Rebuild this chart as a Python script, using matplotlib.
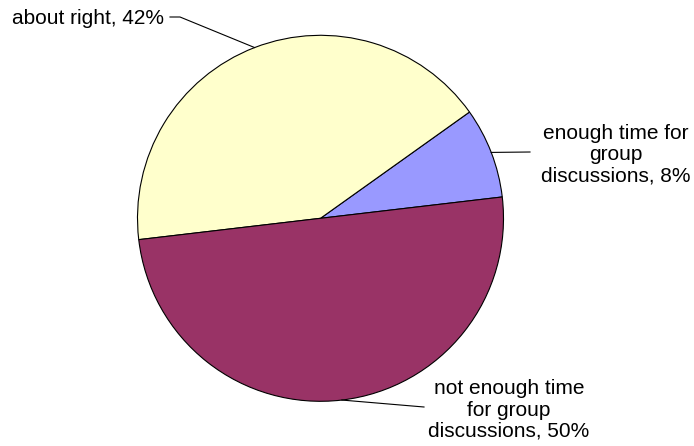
import numpy as np
import matplotlib
matplotlib.use("Agg")
import matplotlib.pyplot as plt

plt.rcParams['font.family'] = ['Liberation Sans', 'DejaVu Sans']

# shares of answers
labels = ["enough time for\ngroup\ndiscussions, 8%",
          "about right, 42%",
          "not enough time\nfor group\ndiscussions, 50%"]
values = [8, 42, 50]
colors = ["#9999FF", "#FFFFCC", "#993366"]

W, H = 694, 446
fig = plt.figure(figsize=(W / 100, H / 100), dpi=100)
ax = fig.add_axes([0, 0, 1, 1])

cx, cy, r = 320.5, H - 218.3, 183
wedges, _ = ax.pie(values, colors=colors, startangle=6.7, counterclock=True,
                   center=(cx, cy), radius=r, frame=True,
                   wedgeprops=dict(edgecolor="black", linewidth=0.8))
ax.set_xlim(0, W)
ax.set_ylim(0, H)
ax.set_aspect("equal")
ax.axis("off")

# label placement (pixel coords, y measured from top) and leader ends
text_pos = [(616, 155, "center"), (12, 18, "left"), (509, 410, "center")]
leader_end = [[(530, 152)], [(180, 17), (170, 17)], [(424, 407)]]

for w, lab, (tx, ty, ha), ends in zip(wedges, labels, text_pos, leader_end):
    mid = np.deg2rad((w.theta1 + w.theta2) / 2)
    px, py = cx + r * np.cos(mid), cy + r * np.sin(mid)
    xs = [px] + [e[0] for e in ends]
    ys = [py] + [H - e[1] for e in ends]
    ax.plot(xs, ys, color="black", linewidth=0.8)
    ax.text(tx, H - ty, lab, ha=ha, va="center", fontsize=15,
            multialignment="center", linespacing=1.15)

fig.savefig("out.png", dpi=100)
